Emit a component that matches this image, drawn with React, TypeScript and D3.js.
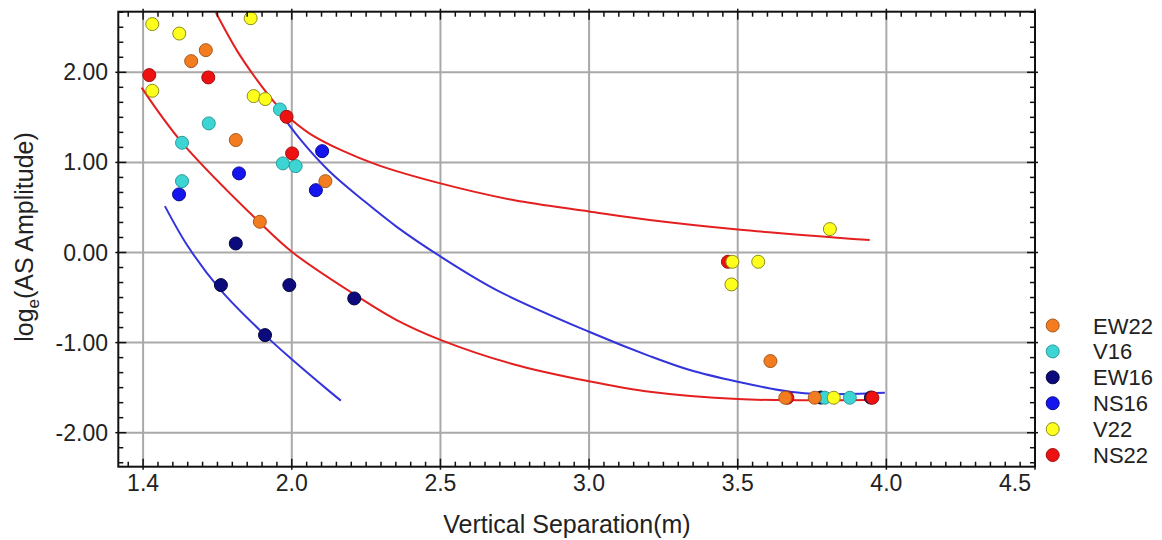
import React from 'react';
import * as d3 from 'd3';

const W = 1162;
const H = 540;
const PLOT = { left: 118.3, right: 1035, top: 11.7, bottom: 466.7 };

// axis ticks
const xTickValues = [1.4, 2.0, 2.5, 3.0, 3.5, 4.0, 4.5];
const xTickLabels = ['1.4', '2.0', '2.5', '3.0', '3.5', '4.0', '4.5'];
const xAxisMin = 1.3;
const yTickValues = [-2, -1, 0, 1, 2];
const yTickLabels = ['-2.00', '-1.00', '0.00', '1.00', '2.00'];
const yMinorPerMajor = 6;
const xMinorPerMajor = 10;

// series (x = vertical separation, y = log_e amplitude)
const ew22: [number, number][] = [
  [1.594, 2.124], [1.653, 2.246], [1.774, 1.248], [2.113, 0.792], [1.871, 0.341],
  [3.61, -1.205], [3.66, -1.612], [3.759, -1.612],
];
const v16: [number, number][] = [
  [1.952, 1.588], [1.665, 1.433], [1.557, 1.218], [1.964, 0.989], [2.013, 0.959],
  [1.557, 0.792], [3.793, -1.612], [3.877, -1.612],
];
const ew16: [number, number][] = [
  [1.774, 0.10], [1.714, -0.362], [1.99, -0.362], [2.21, -0.51], [1.892, -0.917],
  [3.78, -1.61], [3.948, -1.61],
];
const ns16: [number, number][] = [
  [2.102, 1.125], [1.787, 0.878], [2.081, 0.692], [1.545, 0.645],
];
const v22: [number, number][] = [
  [1.437, 2.535], [1.546, 2.43], [1.834, 2.60], [1.437, 1.795], [1.846, 1.736],
  [1.893, 1.703], [3.81, 0.26], [3.482, -0.103], [3.569, -0.103], [3.479, -0.354],
  [3.823, -1.612],
];
const ns22: [number, number][] = [
  [1.425, 1.969], [1.663, 1.943], [1.979, 1.506], [2.001, 1.10], [3.467, -0.103],
  [3.667, -1.612], [3.953, -1.612],
];

// fitted curves
const redUpper: [number, number][] = [
  [1.694, 2.66], [1.78, 2.235], [1.86, 1.913], [1.93, 1.667], [1.98, 1.52], [2.06, 1.32],
  [2.17, 1.13], [2.29, 0.97], [2.50, 0.767], [2.745, 0.582], [3.0, 0.455], [3.204, 0.36],
  [3.5, 0.255], [3.944, 0.138],
];
const redLower: [number, number][] = [
  [1.394, 1.83], [1.557, 1.22], [1.87, 0.334], [2.003, 0.0], [2.213, -0.47],
  [2.353, -0.75], [2.502, -0.972], [2.745, -1.24], [3.0, -1.43],
  [3.204, -1.546], [3.5, -1.627], [3.944, -1.638],
];
const blueLong: [number, number][] = [
  [1.94, 1.60], [2.03, 1.25], [2.128, 0.896], [2.24, 0.58], [2.353, 0.285], [2.502, -0.048],
  [2.689, -0.417], [3.0, -0.88], [3.204, -1.15], [3.339, -1.305], [3.5, -1.435],
  [3.676, -1.546], [3.776, -1.572], [3.995, -1.557],
];
const blueShort: [number, number][] = [
  [1.488, 0.515], [1.582, 0.063], [1.714, -0.42], [1.892, -0.917], [2.0, -1.185],
  [2.128, -1.544], [2.165, -1.644],
];

const legendNames = ['EW22', 'V16', 'EW16', 'NS16', 'V22', 'NS22'];
const seriesData: Record<string, [number, number][]> = {
  EW22: ew22, V16: v16, EW16: ew16, NS16: ns16, V22: v22, NS22: ns22,
};
const drawOrder = ['EW16', 'NS16', 'V16', 'NS22', 'EW22', 'V22'];
const fills: Record<string, string> = {
  EW22: '#f47c20', V16: '#3dd4d4', EW16: '#0b0b7e', NS16: '#1515ee', V22: '#ffff1e', NS22: '#ee1111',
};
const strokes: Record<string, string> = {
  EW22: '#a65a1c', V16: '#2a9c9c', EW16: '#05053c', NS16: '#0a0a90', V22: '#8c8c1a', NS22: '#a01010',
};

const FONT = '"Liberation Sans", Arial, Helvetica, sans-serif';

export default function App() {
  const x = d3.scaleLinear().domain([1.4, 2.0, 4.5]).range([143.1, 291.8, PLOT.right]);
  const y = d3.scaleLinear().domain([-2, 2]).range([432.7, 72.3]);

  const line = d3
    .line<[number, number]>()
    .x((d) => x(d[0]))
    .y((d) => y(d[1]))
    .curve(d3.curveCatmullRom.alpha(0.5));

  // minor ticks
  const xMinor: number[] = [];
  for (let i = 0; i < xTickValues.length - 1; i++) {
    const a = xTickValues[i];
    const b = xTickValues[i + 1];
    for (let k = 1; k < xMinorPerMajor; k++) xMinor.push(a + ((b - a) * k) / xMinorPerMajor);
  }
  {
    const step = (xTickValues[1] - xTickValues[0]) / xMinorPerMajor;
    for (let v = xTickValues[0] - step; v >= xAxisMin - 1e-9; v -= step) xMinor.push(v);
  }
  const yMinor: number[] = [];
  for (let k = -3 * yMinorPerMajor; k <= 3 * yMinorPerMajor; k++) {
    if (k % yMinorPerMajor === 0) continue;
    const v = k / yMinorPerMajor;
    const py = y(v);
    if (py >= PLOT.top - 0.5 && py <= PLOT.bottom + 0.5) yMinor.push(v);
  }

  const gridColor = '#a9a9a9';
  const tickFont = 23;

  return (
    <svg
      width={W}
      height={H}
      style={{ position: 'absolute', left: 0, top: 0, background: '#fff' }}
      fontFamily={FONT}
    >
      <defs>
        <clipPath id="plotClip">
          <rect x={PLOT.left} y={PLOT.top} width={PLOT.right - PLOT.left} height={PLOT.bottom - PLOT.top} />
        </clipPath>
      </defs>
      <rect x={0} y={0} width={W} height={H} fill="#fff" />

      {/* grid */}
      {xTickValues.slice(0, -1).map((v) => (
        <line key={'gx' + v} x1={x(v)} x2={x(v)} y1={PLOT.top} y2={PLOT.bottom} stroke={gridColor} strokeWidth={2} />
      ))}
      {yTickValues.map((v) => (
        <line key={'gy' + v} x1={PLOT.left} x2={PLOT.right} y1={y(v)} y2={y(v)} stroke={gridColor} strokeWidth={2} />
      ))}

      {/* curves */}
      <g clipPath="url(#plotClip)" fill="none" strokeWidth={2}>
        <path d={line(redUpper) || ''} stroke="#e41f1f" />
        <path d={line(redLower) || ''} stroke="#e41f1f" />
        <path d={line(blueLong) || ''} stroke="#3434dc" />
        <path d={line(blueShort) || ''} stroke="#3434dc" />
      </g>

      {/* points */}
      <g clipPath="url(#plotClip)">
        {drawOrder.map((name) =>
          seriesData[name].map((d, i) => (
            <circle
              key={name + i}
              cx={x(d[0])}
              cy={y(d[1])}
              r={6.5}
              fill={fills[name]}
              stroke={strokes[name]}
              strokeWidth={1}
            />
          ))
        )}
      </g>

      {/* frame */}
      <rect
        x={PLOT.left}
        y={PLOT.top}
        width={PLOT.right - PLOT.left}
        height={PLOT.bottom - PLOT.top}
        fill="none"
        stroke="#111"
        strokeWidth={2}
      />

      {/* ticks */}
      <g stroke="#111" strokeWidth={1.5}>
        {xTickValues.map((v) => (
          <g key={'xt' + v}>
            <line x1={x(v)} x2={x(v)} y1={PLOT.bottom + 3} y2={PLOT.bottom - 8} />
            <line x1={x(v)} x2={x(v)} y1={PLOT.top - 3} y2={PLOT.top + 8} />
          </g>
        ))}
        {xMinor.map((v, i) => (
          <g key={'xm' + i}>
            <line x1={x(v)} x2={x(v)} y1={PLOT.bottom} y2={PLOT.bottom - 5} />
            <line x1={x(v)} x2={x(v)} y1={PLOT.top} y2={PLOT.top + 5} />
          </g>
        ))}
        {yTickValues.map((v) => (
          <g key={'yt' + v}>
            <line x1={PLOT.left - 3} x2={PLOT.left + 8} y1={y(v)} y2={y(v)} />
            <line x1={PLOT.right + 3} x2={PLOT.right - 8} y1={y(v)} y2={y(v)} />
          </g>
        ))}
        {yMinor.map((v, i) => (
          <g key={'ym' + i}>
            <line x1={PLOT.left} x2={PLOT.left + 5} y1={y(v)} y2={y(v)} />
            <line x1={PLOT.right} x2={PLOT.right - 5} y1={y(v)} y2={y(v)} />
          </g>
        ))}
      </g>

      {/* tick labels */}
      <g fontSize={tickFont} fill="#222">
        {xTickValues.map((v, i) => {
          const last = i === xTickValues.length - 1;
          return (
            <text
              key={'xl' + v}
              x={last ? x(v) - 4 : x(v)}
              y={490.5}
              textAnchor={last ? 'end' : 'middle'}
            >
              {xTickLabels[i]}
            </text>
          );
        })}
        {yTickValues.map((v, i) => (
          <text key={'yl' + v} x={108} y={y(v) + 8} textAnchor="end">
            {yTickLabels[i]}
          </text>
        ))}
      </g>

      {/* axis titles */}
      <text x={567} y={533} fontSize={25} textAnchor="middle" fill="#222">
        Vertical Separation(m)
      </text>
      <text transform="translate(33,237) rotate(-90)" fontSize={25} textAnchor="middle" fill="#222">
        log<tspan fontSize={17} dy={6}>e</tspan>
        <tspan dy={-6}>(AS Amplitude)</tspan>
      </text>

      {/* legend */}
      <g fontSize={22} fill="#222">
        {legendNames.map((name, i) => {
          const cy = 325.5 + i * 25.9;
          return (
            <g key={'lg' + name}>
              <circle cx={1052.7} cy={cy} r={6.5} fill={fills[name]} stroke={strokes[name]} strokeWidth={1} />
              <text x={1093} y={cy + 8}>
                {name}
              </text>
            </g>
          );
        })}
      </g>
    </svg>
  );
}
